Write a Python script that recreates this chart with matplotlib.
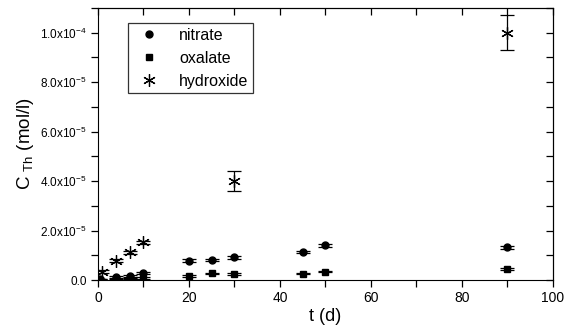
import matplotlib
matplotlib.use('Agg')
import matplotlib.pyplot as plt
from matplotlib.lines import Line2D
from matplotlib.ticker import MultipleLocator, FuncFormatter, NullFormatter

plt.rcParams['font.family'] = ['Liberation Sans', 'DejaVu Sans']
plt.rcParams['mathtext.default'] = 'regular'

# data (t in days, C in mol/l)
t_nitrate = [0, 0.5, 4, 7, 10, 20, 25, 30, 45, 50, 90]
c_nitrate = [0.2e-6, 0.3e-6, 1.2e-6, 1.8e-6, 2.8e-6, 7.9e-6, 8.1e-6, 9.2e-6, 1.14e-5, 1.42e-5, 1.33e-5]
e_nitrate = [0.3e-6, 0.3e-6, 0.3e-6, 0.4e-6, 0.5e-6, 0.5e-6, 0.5e-6, 0.5e-6, 0.5e-6, 0.6e-6, 0.6e-6]

t_oxalate = [0, 0.5, 4, 7, 10, 20, 25, 30, 45, 50, 90]
c_oxalate = [0.1e-6, 0.2e-6, 0.4e-6, 0.7e-6, 1.0e-6, 1.6e-6, 2.7e-6, 2.5e-6, 2.6e-6, 3.5e-6, 4.4e-6]
e_oxalate = [0.2e-6, 0.2e-6, 0.2e-6, 0.3e-6, 0.4e-6, 0.3e-6, 0.3e-6, 0.3e-6, 0.3e-6, 0.3e-6, 0.4e-6]

t_hydroxide = [0, 1, 4, 7, 10, 30, 90]
c_hydroxide = [0.2e-6, 3.5e-6, 7.8e-6, 1.13e-5, 1.53e-5, 4.0e-5, 1.0e-4]
e_hydroxide = [0.3e-6, 0.6e-6, 0.6e-6, 0.6e-6, 0.6e-6, 4.0e-6, 7.0e-6]

labels = ['nitrate', 'oxalate', 'hydroxide']
markers = ['o', 's', (6, 2, 0)]


def sci_label(v, pos):
    if v == 0:
        return '0.0'
    exp = int(f'{v:e}'.split('e')[1])
    mant = v / 10**exp
    return f'{mant:.1f}x10$^{{{exp}}}$'


fig = plt.figure(figsize=(5.66, 3.30), dpi=100)
ax = fig.add_axes([0.173, 0.151, 0.804, 0.825])

style = dict(color='black', ecolor='black', elinewidth=0.9, capsize=5, capthick=0.9, linestyle='none')
ax.errorbar(t_nitrate, c_nitrate, yerr=e_nitrate, marker=markers[0], markersize=5, **style)
ax.errorbar(t_oxalate, c_oxalate, yerr=e_oxalate, marker=markers[1], markersize=5, **style)
ax.errorbar(t_hydroxide, c_hydroxide, yerr=e_hydroxide, marker=markers[2], markersize=9,
            markeredgewidth=0.9, **style)

ax.set_xlim(0, 100)
ax.set_ylim(0, 1.1e-4)
ax.xaxis.set_major_locator(MultipleLocator(20))
ax.xaxis.set_minor_locator(MultipleLocator(10))
ax.yaxis.set_major_locator(MultipleLocator(2e-5))
ax.yaxis.set_minor_locator(MultipleLocator(1e-5))
ax.yaxis.set_major_formatter(FuncFormatter(sci_label))

ax.tick_params(axis='both', which='both', direction='out', length=5, width=0.9)
ax.tick_params(axis='x', labelsize=10, pad=3)
ax.tick_params(axis='y', labelsize=8.5, pad=3)

# top / right: ticks pointing inward, no labels
top = ax.secondary_xaxis('top')
top.xaxis.set_major_locator(MultipleLocator(20))
top.xaxis.set_minor_locator(MultipleLocator(10))
top.xaxis.set_major_formatter(NullFormatter())
top.tick_params(which='both', direction='in', length=5, width=0.9)
right = ax.secondary_yaxis('right')
right.yaxis.set_major_locator(MultipleLocator(2e-5))
right.yaxis.set_minor_locator(MultipleLocator(1e-5))
right.yaxis.set_major_formatter(NullFormatter())
right.tick_params(which='both', direction='in', length=5, width=0.9)

ax.set_xlabel('t (d)', fontsize=13, labelpad=2)
ax.set_ylabel('C $_{Th}$ (mol/l)', fontsize=13.5, labelpad=3)

handles = [Line2D([], [], color='black', linestyle='none', marker=markers[0], markersize=5),
           Line2D([], [], color='black', linestyle='none', marker=markers[1], markersize=5),
           Line2D([], [], color='black', linestyle='none', marker=markers[2], markersize=9,
                  markeredgewidth=0.9)]
leg = ax.legend(handles, labels, loc='upper left', bbox_to_anchor=(0.066, 0.945), borderaxespad=0,
                fontsize=11.5, frameon=True, fancybox=False, edgecolor='black',
                handlelength=2.0, handletextpad=0.9, borderpad=0.3, labelspacing=0.5)
leg.get_frame().set_linewidth(0.9)

fig.savefig('out.png', dpi=100)
